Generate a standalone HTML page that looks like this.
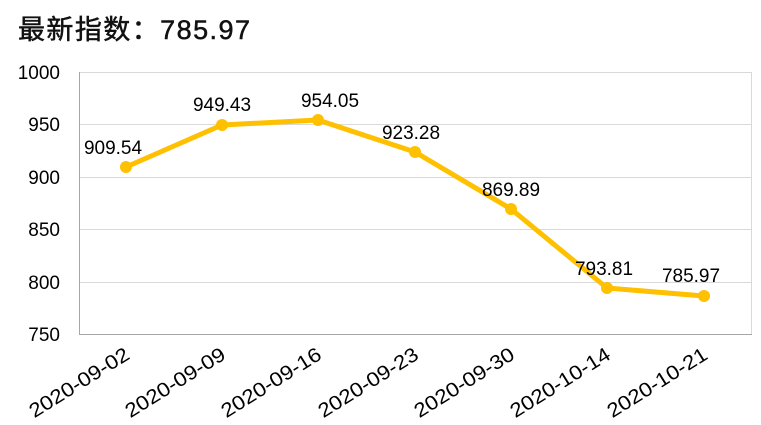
<!DOCTYPE html>
<html><head><meta charset="utf-8"><style>
body{margin:0;background:#fff;width:761px;height:425px;overflow:hidden}
svg{display:block;font-family:"Liberation Sans","Noto Sans CJK SC",sans-serif}
</style></head><body>
<svg width="761" height="425" viewBox="0 0 761 425">
<text x="18" y="39" font-size="27" fill="#111" stroke="#111" stroke-width="0.5" textLength="232" lengthAdjust="spacing">最新指数：785.97</text>
<g stroke="#d9d9d9" stroke-width="1">
<line x1="80" y1="72.5" x2="752" y2="72.5"/>
<line x1="80" y1="124.5" x2="752" y2="124.5"/>
<line x1="80" y1="177.5" x2="752" y2="177.5"/>
<line x1="80" y1="229.5" x2="752" y2="229.5"/>
<line x1="80" y1="282.5" x2="752" y2="282.5"/>
<line x1="751.5" y1="72" x2="751.5" y2="334"/>
</g>
<g stroke="#a6a6a6" stroke-width="1">
<line x1="79.5" y1="72" x2="79.5" y2="334"/>
<line x1="79" y1="334.5" x2="752" y2="334.5"/>
</g>
<g font-size="19" fill="#000" text-anchor="end">
<text x="60" y="79">1000</text>
<text x="60" y="131">950</text>
<text x="60" y="184">900</text>
<text x="60" y="236">850</text>
<text x="60" y="289">800</text>
<text x="60" y="341">750</text>
</g>
<polyline fill="none" stroke="#FFC000" stroke-width="5" stroke-linejoin="round" points="126,167 222,125 318,120 415,152 511,209 607,288 704,296"/>
<g fill="#FFC000">
<circle cx="126" cy="167" r="6"/><circle cx="222" cy="125" r="6"/><circle cx="318" cy="120" r="6"/>
<circle cx="415" cy="152" r="6"/><circle cx="511" cy="209" r="6"/><circle cx="607" cy="288" r="6"/><circle cx="704" cy="296" r="6"/>
</g>
<g font-size="19" fill="#000" text-anchor="middle">
<text x="113" y="154">909.54</text>
<text x="222" y="111">949.43</text>
<text x="330" y="107">954.05</text>
<text x="411" y="139">923.28</text>
<text x="511" y="196">869.89</text>
<text x="604" y="275">793.81</text>
<text x="691" y="282">785.97</text>
</g>
<g font-size="20" fill="#000" text-anchor="end">
<text transform="translate(131,358) rotate(-32)" textLength="114" lengthAdjust="spacingAndGlyphs">2020-09-02</text>
<text transform="translate(227,358) rotate(-32)" textLength="114" lengthAdjust="spacingAndGlyphs">2020-09-09</text>
<text transform="translate(323,358) rotate(-32)" textLength="114" lengthAdjust="spacingAndGlyphs">2020-09-16</text>
<text transform="translate(420,358) rotate(-32)" textLength="114" lengthAdjust="spacingAndGlyphs">2020-09-23</text>
<text transform="translate(516,358) rotate(-32)" textLength="114" lengthAdjust="spacingAndGlyphs">2020-09-30</text>
<text transform="translate(612,358) rotate(-32)" textLength="114" lengthAdjust="spacingAndGlyphs">2020-10-14</text>
<text transform="translate(709,358) rotate(-32)" textLength="114" lengthAdjust="spacingAndGlyphs">2020-10-21</text>
</g>
</svg>
</body></html>
